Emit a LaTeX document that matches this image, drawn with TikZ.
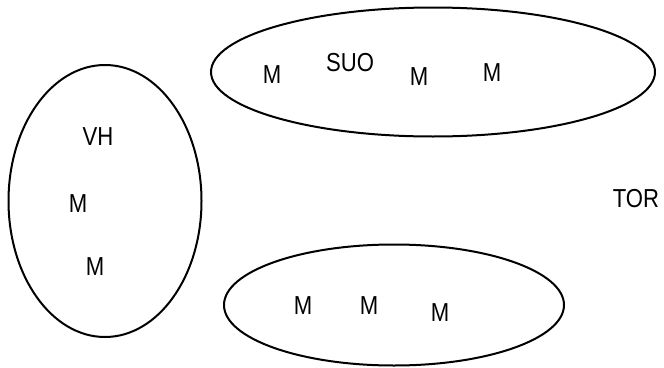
\documentclass[tikz,border=0pt]{standalone}
\usepackage{fontspec}
\setmainfont{Liberation Sans}[FakeStretch=0.85]
\usetikzlibrary{shapes.geometric}

\begin{document}
\begin{tikzpicture}[x=10pt, y=-10pt,
    grupo/.style={draw, ellipse, line width=2pt, inner sep=0pt},
    letra/.style={font=\fontsize{26}{26}\selectfont, inner sep=0pt}]
    \useasboundingbox (0, 0) rectangle (66.4, 36.7);

    \node [grupo, minimum width=444pt, minimum height=129pt] (arriba) at (43.3, 7.2) {};
    \node [grupo, minimum width=193pt, minimum height=272pt] (izq) at (10.5, 20.1) {};
    \node [grupo, minimum width=340pt, minimum height=121pt] (abajo) at (39.4, 30.5) {};

    \node [letra] (m1) at (27.2, 7.5) {M};
    \node [letra] (suo) at (35.0, 6.3) {SUO};
    \node [letra] (m2) at (41.9, 7.7) {M};
    \node [letra] (m3) at (49.2, 7.3) {M};

    \node [letra] (vh) at (9.8, 13.7) {VH};
    \node [letra] (m4) at (7.8, 20.4) {M};
    \node [letra] (m5) at (9.5, 26.7) {M};

    \node [letra] (m6) at (30.3, 30.6) {M};
    \node [letra] (m7) at (36.9, 30.6) {M};
    \node [letra] (m8) at (44.0, 31.3) {M};

    \node [letra] (tor) at (63.6, 19.9) {TOR};

\end{tikzpicture}
\end{document}
